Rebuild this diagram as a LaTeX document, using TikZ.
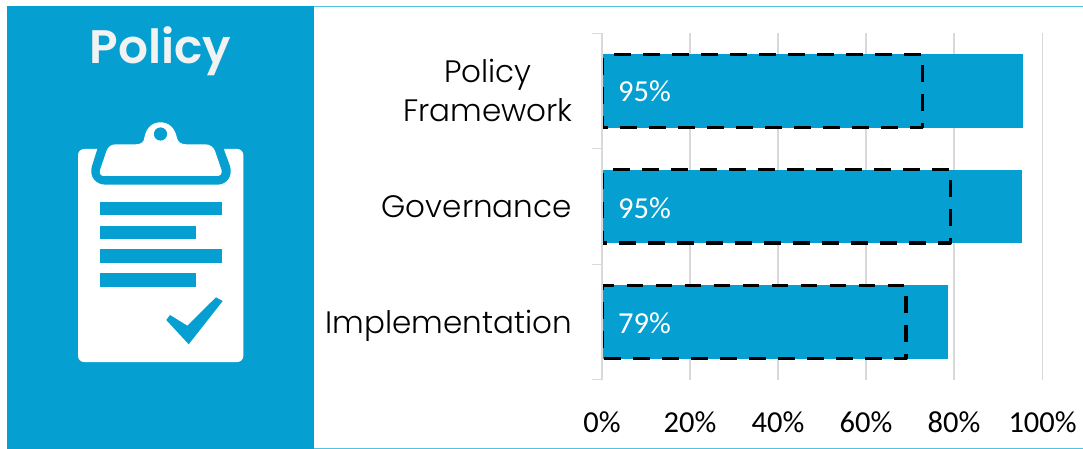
\documentclass[tikz,border=0pt]{standalone}
\usepackage{fontspec}
\setmainfont{Carlito}
\newfontfamily\gothic[UprightFont=* Light,BoldFont=* SemiBold]{Poppins}
\definecolor{barblue}{HTML}{05A0D1}
\definecolor{edgeblue}{HTML}{4FC3E3}
\definecolor{gridgrey}{HTML}{D9D9D9}
\definecolor{titlegrey}{HTML}{F2F2F2}
\tikzset{
  gridline/.style={draw=gridgrey,line width=1.4pt},
  hbar/.style={fill=barblue,draw=none},
  target/.style={draw=black,line width=3.3pt,dash pattern=on 16.7pt off 12.3pt,line join=round},
  axislabel/.style={font=\fontsize{30.5}{36}\selectfont,text=black,inner sep=0pt,anchor=base},
  barlabel/.style={font=\fontsize{30.5}{36}\selectfont,text=white,inner sep=0pt,anchor=base west},
  catlabel/.style={font=\gothic\fontsize{31}{39}\selectfont,text=black,inner sep=0pt,anchor=base east},
  listbar/.style={fill=barblue,draw=none}
}
\begin{document}
\begin{tikzpicture}[x=1pt,y=-1pt]
\useasboundingbox (0,0) rectangle (1083,449);
\fill[white] (0,0) rectangle (1083,449);
% frame
\fill[edgeblue] (7,6) rectangle (1083,7.2);
\fill[edgeblue] (314,447.8) rectangle (1083,449);
\fill[barblue] (7,6) rectangle (314,449);
\node[font=\gothic\bfseries\fontsize{47}{50}\selectfont,text=titlegrey,inner sep=0pt,anchor=base] (title) at (160.5,63.5) {Policy};
% clipboard
\fill[white,rounded corners=6pt] (78,149) rectangle (243.3,362);
\fill[barblue] (98,147) -- (92,166) .. controls (89,176) and (95,184.7) .. (106,184.7) -- (217,184.7) .. controls (227,184.7) and (233,176) .. (230,166) -- (223,147) -- cycle;
\fill[white] (106.5,151) .. controls (108,147) and (111,144.3) .. (116,144.3) -- (136,144.3) .. controls (141,144.3) and (144,142) .. (144.3,138) .. controls (146,128) and (152,122.3) .. (160.5,122.3) .. controls (169,122.3) and (175,128) .. (177,138) .. controls (178,142) and (181,144.3) .. (186,144.3) -- (205,144.3) .. controls (210,144.3) and (213.5,147) .. (215,151) -- (221.5,170) .. controls (222.5,174) and (220,176) .. (217,176) -- (104,176) .. controls (101,176) and (99,174) .. (100,170) -- cycle;
\fill[barblue] (160.5,134) circle (6.6);
\fill[listbar] (100,202) rectangle (221.8,215.3);
\fill[listbar] (100,225.6) rectangle (195.8,239);
\fill[listbar] (100,249.3) rectangle (221.8,262.7);
\fill[listbar] (100,273.2) rectangle (195.8,286.5);
\fill[barblue] (166.3,320) -- (170,315) -- (187.3,325.7) -- (216,297.3) -- (222.7,301) -- (188.7,344.3) -- cycle;
% grid
\foreach \gx in {602,690,778,866,954,1042.6} \draw[gridline] (\gx,33) -- (\gx,380);
\foreach \gy in {33.3,148.7,264.5,379.6} \draw[gridline] (592,\gy) -- (602,\gy);
% bars
\fill[hbar] (603,54) rectangle (1022.7,127.8);
\fill[hbar] (603,170) rectangle (1022.2,243);
\fill[hbar] (603,285) rectangle (948,358.6);
% targets
\begin{scope}
\clip (603,0) rectangle (1083,449);
\draw[target,dash phase=17.7pt] (602.5,54.7) -- (922.3,54.7) -- (922.3,127.7) -- (602.5,127.7) -- cycle;
\draw[target,dash phase=18.7pt] (602.5,169.8) -- (950.2,169.8) -- (950.2,243) -- (602.5,243) -- cycle;
\draw[target,dash phase=5pt] (602.5,285.3) -- (906,285.3) -- (906,358.6) -- (602.5,358.6) -- cycle;
\end{scope}
% labels
\node[barlabel] (v1) at (618,102) {95\%};
\node[barlabel] (v2) at (618,218) {95\%};
\node[barlabel] (v3) at (618,333) {79\%};
\node[catlabel,align=center,anchor=east] (c1) at (573,90) {Policy\\Framework};
\node[catlabel] (c2) at (572,217) {Governance};
\node[catlabel] (c3) at (572,333) {Implementation};
\node[axislabel] (t0) at (602,432) {0\%};
\node[axislabel] (t1) at (690,432) {20\%};
\node[axislabel] (t2) at (778,432) {40\%};
\node[axislabel] (t3) at (866,432) {60\%};
\node[axislabel] (t4) at (954,432) {80\%};
\node[axislabel] (t5) at (1042.6,432) {100\%};
\end{tikzpicture}
\end{document}
